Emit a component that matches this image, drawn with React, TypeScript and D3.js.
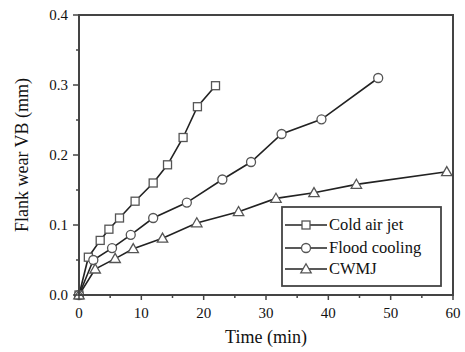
import React from "react";
import * as d3 from "d3";

const coldX = [0, 1.5, 3.4, 4.8, 6.5, 9.0, 11.9, 14.2, 16.7, 19.0, 21.9];
const coldY = [0, 0.054, 0.078, 0.094, 0.110, 0.134, 0.160, 0.186, 0.225, 0.269, 0.299];
const floodX = [0, 2.3, 5.3, 8.3, 11.9, 17.3, 23.0, 27.6, 32.5, 38.9, 48.0];
const floodY = [0, 0.050, 0.067, 0.086, 0.110, 0.132, 0.165, 0.190, 0.230, 0.251, 0.310];
const cwmjX = [0, 2.6, 5.8, 8.7, 13.4, 18.9, 25.6, 31.6, 37.7, 44.5, 59.0];
const cwmjY = [0, 0.037, 0.052, 0.066, 0.081, 0.103, 0.119, 0.138, 0.146, 0.158, 0.176];
const seriesNames = ["Cold air jet", "Flood cooling", "CWMJ"];
const xTicks = [0, 10, 20, 30, 40, 50, 60];
const yTicks = [0.0, 0.1, 0.2, 0.3, 0.4];

const W = 465, H = 352;
const left = 79, right = 453, top = 15, bottom = 295;

function Marker({ kind, x, y }: { kind: string; x: number; y: number }) {
  const st = { fill: "white", stroke: "#555", strokeWidth: 1.3 };
  if (kind === "square") return <rect x={x - 4} y={y - 4} width={8} height={8} {...st} />;
  if (kind === "circle") return <circle cx={x} cy={y} r={4.5} {...st} />;
  const s = 5.2;
  return <path d={`M${x},${y - s}L${x + s},${y + s * 0.75}L${x - s},${y + s * 0.75}Z`} {...st} />;
}

export default function App() {
  const x = d3.scaleLinear().domain([0, 60]).range([left, right]);
  const y = d3.scaleLinear().domain([0, 0.4]).range([bottom, top]);
  const series = [
    { name: seriesNames[0], xs: coldX, ys: coldY, kind: "square" },
    { name: seriesNames[1], xs: floodX, ys: floodY, kind: "circle" },
    { name: seriesNames[2], xs: cwmjX, ys: cwmjY, kind: "triangle" },
  ];
  const line = d3.line<[number, number]>().x((d) => x(d[0])).y((d) => y(d[1]));
  const xMinor = d3.range(0, 61, 5);
  const yMinor = d3.range(0, 0.401, 0.05);
  const font = "'Liberation Serif', 'Times New Roman', serif";
  const axisColor = "#444";
  const legX = 282, legY = 207, legW = 159, legH = 79;
  const legRows = [225, 248, 269];
  return (
    <svg width={W} height={H} style={{ position: "absolute", left: 0, top: 0, background: "white" }} fontFamily={font}>
      {series.map((s) => (
        <path key={s.name} d={line(s.xs.map((v, i) => [v, s.ys[i]] as [number, number])) || ""} fill="none" stroke="#222" strokeWidth={1.6} />
      ))}
      {series.map((s) =>
        s.xs.map((v, i) => <Marker key={s.name + i} kind={s.kind} x={x(v)} y={y(s.ys[i])} />)
      )}
      <rect x={left} y={top} width={right - left} height={bottom - top} fill="none" stroke={axisColor} strokeWidth={2} />
      {xMinor.map((t) => (
        <line key={"xm" + t} x1={x(t)} x2={x(t)} y1={bottom} y2={bottom + (t % 10 === 0 ? 5 : 3)} stroke={axisColor} strokeWidth={1.5} />
      ))}
      {yMinor.map((t, i) => (
        <line key={"ym" + i} x1={left} x2={left - (i % 2 === 0 ? 6 : 3)} y1={y(t)} y2={y(t)} stroke={axisColor} strokeWidth={1.5} />
      ))}
      {xTicks.map((t) => (
        <text key={"xt" + t} x={x(t)} y={318} textAnchor="middle" fontSize={15} fill="#111">{t}</text>
      ))}
      {yTicks.map((t) => (
        <text key={"yt" + t} x={68} y={y(t) + 5} textAnchor="end" fontSize={15} fill="#111">{t.toFixed(1)}</text>
      ))}
      <text x={(left + right) / 2} y={343} textAnchor="middle" fontSize={18} fill="#111">Time (min)</text>
      <text transform={`translate(28,${(top + bottom) / 2}) rotate(-90)`} textAnchor="middle" fontSize={18} fill="#111">Flank wear VB (mm)</text>
      <rect x={legX} y={legY} width={legW} height={legH} fill="white" stroke={axisColor} strokeWidth={1.8} />
      {series.map((s, i) => (
        <g key={"lg" + i}>
          <line x1={285} x2={327} y1={legRows[i]} y2={legRows[i]} stroke="#222" strokeWidth={1.6} />
          <Marker kind={s.kind} x={306} y={legRows[i]} />
          <text x={329} y={legRows[i] + 5} fontSize={16.5} fill="#111">{s.name}</text>
        </g>
      ))}
    </svg>
  );
}
